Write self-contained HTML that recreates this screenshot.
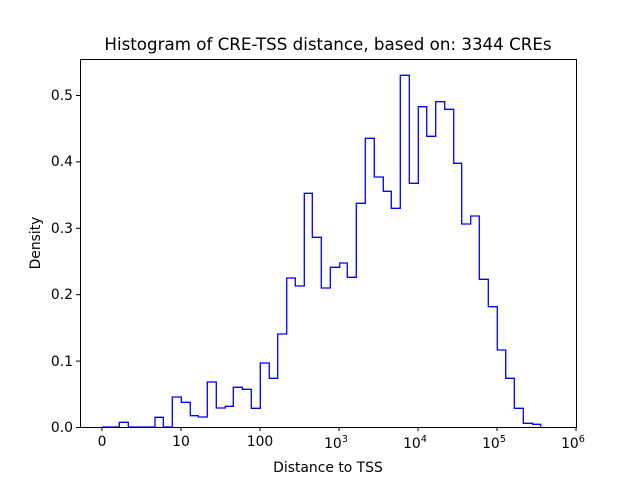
<!DOCTYPE html>
<html><head><style>body{margin:0;background:#fff}svg{display:block}text{font-family:"DejaVu Sans","Liberation Sans",sans-serif;fill:#000}</style></head>
<body>
<svg width="640" height="480" viewBox="0 0 640 480">
<rect width="640" height="480" fill="#fff"/>
<path fill="none" stroke="#0000ff" stroke-width="1.3" d="M102.3,427 H119.3 V422.3 H128.3 V427 H155 V417.3 H163.3 V427 H172.3 V397 H181.3 V402.3 H190.3 V415.7 H198.3 V417 H207.3 V382 H216.3 V408 H225.3 V406.3 H233.3 V387.3 H242.3 V389.3 H251.3 V408.3 H260.3 V363 H269.3 V378.3 H277.7 V334 H286.7 V278 H295.3 V286 H304.3 V193.3 H312.3 V237.3 H321.3 V288 H330.3 V267.3 H339.7 V263 H347.3 V277.3 H356.3 V203.3 H365.3 V138.3 H374.3 V177 H383.3 V191.3 H391.3 V208.3 H400.3 V75.3 H409.3 V183.3 H418.3 V106.7 H426.7 V136.3 H435.7 V101.7 H444.7 V109.3 H453.7 V163.3 H461.7 V224 H470.7 V216 H479.3 V279.3 H488.3 V306.7 H497.3 V350 H505.7 V378.3 H514.3 V408.3 H523.3 V423.3 H532.7 V424.3 H540.7 V427"/>
<rect x="80.5" y="59.5" width="496" height="368" fill="none" stroke="#000" stroke-width="1"/>
<g stroke="#000" stroke-width="1">
<line x1="102" y1="427" x2="102" y2="431"/><line x1="181" y1="427" x2="181" y2="431"/><line x1="260" y1="427" x2="260" y2="431"/><line x1="339" y1="427" x2="339" y2="431"/><line x1="418" y1="427" x2="418" y2="431"/><line x1="497" y1="427" x2="497" y2="431"/><line x1="576" y1="427" x2="576" y2="431"/>
<line x1="76" y1="427.5" x2="80" y2="427.5"/><line x1="76" y1="361.1" x2="80" y2="361.1"/><line x1="76" y1="294.7" x2="80" y2="294.7"/><line x1="76" y1="228.3" x2="80" y2="228.3"/><line x1="76" y1="161.9" x2="80" y2="161.9"/><line x1="76" y1="95.5" x2="80" y2="95.5"/>
</g>
<g font-size="13.9" text-anchor="end">
<text x="73" y="432">0.0</text><text x="73" y="366">0.1</text><text x="73" y="299">0.2</text><text x="73" y="233">0.3</text><text x="73" y="166">0.4</text><text x="73" y="100">0.5</text>
</g>
<g font-size="13.9" text-anchor="middle">
<text x="102" y="446">0</text><text x="181" y="446">10</text><text x="260" y="446">100</text>
<text x="336" y="448">10<tspan font-size="9.7" dy="-6">3</tspan></text>
<text x="415" y="448">10<tspan font-size="9.7" dy="-6">4</tspan></text>
<text x="494" y="448">10<tspan font-size="9.7" dy="-6">5</tspan></text>
<text x="573" y="448">10<tspan font-size="9.7" dy="-6">6</tspan></text>
<text x="328" y="472">Distance to TSS</text>
</g>
<text x="40" y="243" font-size="13.9" text-anchor="middle" transform="rotate(-90 40 243)">Density</text>
<text x="328" y="50" font-size="16.7" text-anchor="middle">Histogram of CRE-TSS distance, based on: 3344 CREs</text>
</svg>
</body></html>
